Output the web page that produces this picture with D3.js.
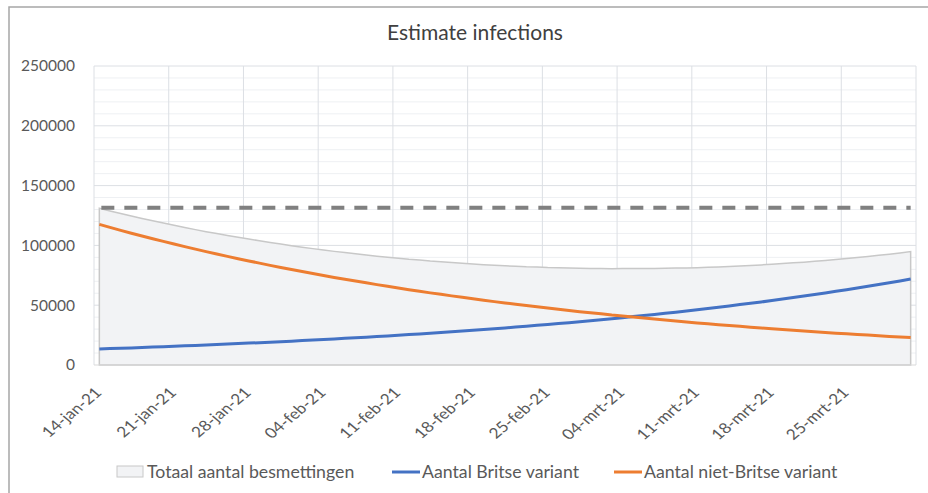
<!DOCTYPE html>
<html>
<head>
<meta charset="utf-8">
<script src="https://cdn.jsdelivr.net/npm/d3@7"></script>
<style>
  html, body { margin: 0; padding: 0; background: #fff; }
  svg { display: block; font-family: "Lato", "Open Sans", sans-serif; }
</style>
</head>
<body>
<svg id="chart" width="928" height="493"></svg>
<script>
// ---------------- data ----------------
const title = "Estimate infections";
const startDate = "2021-01-14";
const endDate = "2021-03-31";
const tickDates = ["2021-01-14","2021-01-21","2021-01-28","2021-02-04","2021-02-11","2021-02-18","2021-02-25","2021-03-04","2021-03-11","2021-03-18","2021-03-25"];
const tickLabels = ["14-jan-21","21-jan-21","28-jan-21","04-feb-21","11-feb-21","18-feb-21","25-feb-21","04-mrt-21","11-mrt-21","18-mrt-21","25-mrt-21"];
const yTicks = [0, 50000, 100000, 150000, 200000, 250000];
const seriesNames = ["Totaal aantal besmettingen", "Aantal Britse variant", "Aantal niet-Britse variant"];

const britse = [13400,13700,14000,14300,14600,15000,15300,15600,16000,16300,
  16700,17100,17500,17900,18300,18700,19100,19500,19900,20400,
  20800,21300,21800,22300,22800,23300,23800,24300,24900,25400,
  26000,26600,27200,27800,28400,29000,29700,30400,31000,31700,
  32400,33200,33900,34700,35400,36200,37000,37900,38700,39600,
  40500,41400,42300,43200,44200,45200,46200,47200,48300,49400,
  50500,51600,52700,53900,55100,56400,57600,58900,60200,61600,
  62900,64400,65800,67300,68800,70300,71900];
const nietBritse = [117600,115100,112600,110200,107900,105600,103400,101200,99000,96900,
  94800,92800,90800,88900,87000,85200,83300,81600,79800,78100,
  76500,74800,73200,71700,70200,68700,67200,65800,64400,63000,
  61700,60300,59100,57800,56600,55400,54200,53000,51900,50800,
  49700,48700,47600,46600,45600,44600,43700,42800,41800,41000,
  40100,39200,38400,37600,36800,36000,35200,34500,33700,33000,
  32300,31600,31000,30300,29700,29000,28400,27800,27200,26600,
  26100,25500,25000,24400,23900,23400,22900];
const totaal = [131000,128800,126600,124500,122500,120600,118700,116800,115000,113200,
  111500,109900,108300,106800,105300,103900,102400,101100,99700,98500,
  97300,96100,95000,94000,93000,92000,91000,90100,89300,88400,
  87700,86900,86300,85600,85000,84400,83900,83400,82900,82500,
  82100,81900,81500,81300,81000,80800,80700,80700,80500,80600,
  80600,80600,80700,80800,81000,81200,81400,81700,82000,82400,
  82800,83200,83700,84200,84800,85400,86000,86700,87400,88200,
  89000,89900,90800,91700,92700,93700,94800];
const drempel = 131500; // dashed reference level

// ---------------- chart ----------------
const svg = d3.select("#chart");
const parse = d3.utcParse("%Y-%m-%d");
const dates = d3.utcDay.range(parse(startDate), d3.utcDay.offset(parse(endDate), 1));
const rows = dates.map((d, i) => ({ date: d, britse: britse[i], niet: nietBritse[i], totaal: totaal[i] }));

const half = 12 * 3600 * 1000;
const x = d3.scaleUtc()
  .domain([new Date(+parse(startDate) - half), new Date(+parse(endDate) + half)])
  .range([94, 916]);
const y = d3.scaleLinear().domain([0, 250000]).range([365, 66]);

// outer border
svg.append("rect").attr("x", 9).attr("y", 7).attr("width", 940).attr("height", 520)
  .attr("fill", "#fff").attr("stroke", "#a6a6a6").attr("stroke-width", 1.5);

// title
svg.append("text").attr("x", 475).attr("y", 40).attr("text-anchor", "middle")
  .attr("font-size", 21).attr("fill", "#404040").text(title);

const grid = svg.append("g");
// minor horizontal gridlines
grid.selectAll("line.minor").data(d3.range(0, 250001, 10000).filter(v => v % 50000 !== 0))
  .join("line").attr("class", "minor")
  .attr("x1", 94).attr("x2", 916).attr("y1", d => y(d)).attr("y2", d => y(d))
  .attr("stroke", "#eef0f3").attr("stroke-width", 1);
// major horizontal gridlines
grid.selectAll("line.major").data(yTicks.filter(v => v > 0))
  .join("line").attr("class", "major")
  .attr("x1", 94).attr("x2", 916).attr("y1", d => y(d)).attr("y2", d => y(d))
  .attr("stroke", "#dcdfe4").attr("stroke-width", 1);
// vertical gridlines (between categories)
const vLines = tickDates.map(d => new Date(+parse(d) - half)).concat([new Date(+parse(endDate) + half)]);
grid.selectAll("line.v").data(vLines).join("line").attr("class", "v")
  .attr("x1", d => x(d)).attr("x2", d => x(d)).attr("y1", 66).attr("y2", 365)
  .attr("stroke", "#dcdfe4").attr("stroke-width", 1);

// y axis labels
const yAxis = d3.axisLeft(y).tickValues(yTicks).tickSize(0).tickPadding(0).tickFormat(d3.format("d"));
svg.append("g").attr("transform", "translate(75,0)").call(yAxis)
  .call(g => g.select(".domain").remove())
  .selectAll("text").attr("font-size", 15.5).attr("fill", "#595959")
  .attr("font-family", "Lato, 'Open Sans', sans-serif");

// area (total)
const area = d3.area().x(d => x(d.date)).y0(y(0)).y1(d => y(d.totaal));
svg.append("path").datum(rows).attr("d", area)
  .attr("fill", "#f2f3f5").attr("stroke", "#c8c8c8").attr("stroke-width", 1.5);

// baseline axis
svg.append("line").attr("x1", 94).attr("x2", 916).attr("y1", 365).attr("y2", 365)
  .attr("stroke", "#d9d9d9").attr("stroke-width", 1);

// lines
const lineB = d3.line().x(d => x(d.date)).y(d => y(d.britse));
const lineN = d3.line().x(d => x(d.date)).y(d => y(d.niet));
svg.append("path").datum(rows).attr("d", lineB).attr("fill", "none")
  .attr("stroke", "#4472c4").attr("stroke-width", 3).attr("stroke-linejoin", "round");
svg.append("path").datum(rows).attr("d", lineN).attr("fill", "none")
  .attr("stroke", "#ed7d31").attr("stroke-width", 3).attr("stroke-linejoin", "round");

// dashed reference
svg.append("line").attr("x1", x(dates[0]) + 2).attr("x2", x(dates[dates.length - 1]))
  .attr("y1", y(drempel)).attr("y2", y(drempel))
  .attr("stroke", "#808080").attr("stroke-width", 4).attr("stroke-dasharray", "13,10");

// x axis labels (rotated, slightly stretched horizontally like the source)
const xAxis = d3.axisBottom(x).tickValues(tickDates.map(parse)).tickSize(0)
  .tickFormat((d, i) => tickLabels[i]);
svg.append("g").attr("transform", "translate(0,365)").call(xAxis)
  .call(g => g.select(".domain").remove())
  .selectAll("text")
  .attr("font-size", 14.5).attr("fill", "#595959")
  .attr("font-family", "Lato, 'Open Sans', sans-serif")
  .attr("text-anchor", "end")
  .attr("dy", "0.35em").attr("y", 0)
  .attr("transform", "translate(-1.5,25) scale(1.2,1) rotate(-45)");

// legend
const leg = svg.append("g").attr("font-size", 17.7).attr("fill", "#595959");
leg.append("rect").attr("x", 117).attr("y", 466).attr("width", 26).attr("height", 11)
  .attr("fill", "#f2f3f5").attr("stroke", "#c8c8c8").attr("stroke-width", 1);
leg.append("text").attr("x", 147).attr("y", 472).attr("dy", "0.35em").text(seriesNames[0]);
leg.append("line").attr("x1", 392).attr("x2", 420).attr("y1", 472).attr("y2", 472)
  .attr("stroke", "#4472c4").attr("stroke-width", 3);
leg.append("text").attr("x", 422).attr("y", 472).attr("dy", "0.35em").text(seriesNames[1]);
leg.append("line").attr("x1", 614).attr("x2", 642).attr("y1", 472).attr("y2", 472)
  .attr("stroke", "#ed7d31").attr("stroke-width", 3);
leg.append("text").attr("x", 644).attr("y", 472).attr("dy", "0.35em").text(seriesNames[2]);
</script>
</body>
</html>
